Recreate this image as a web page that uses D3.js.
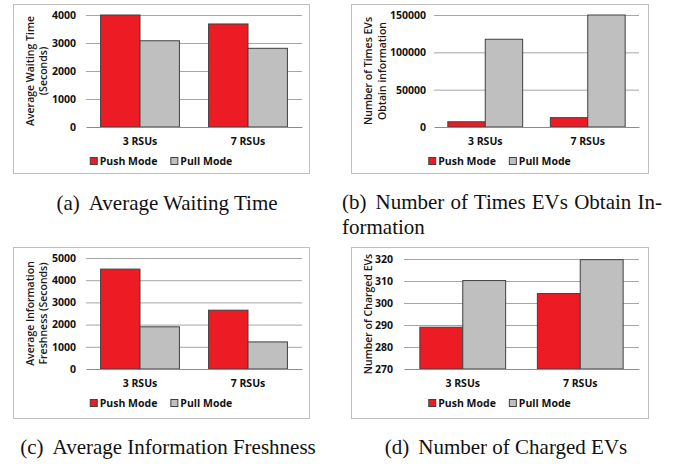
<!DOCTYPE html>
<html>
<head>
<meta charset="utf-8">
<script src="https://cdn.jsdelivr.net/npm/d3@7"></script>
<style>
  body { margin: 0; background: #fff; }
  svg { display: block; }
  .tick text { font-family: "Open Sans", Lato, sans-serif; }
</style>
</head>
<body>
<div id="chart"></div>
<script>
// Data
const categories = ["3 RSUs", "7 RSUs"];
const seriesNames = ["Push Mode", "Pull Mode"];

const waitPush = [4000, 3680];
const waitPull = [3080, 2810];
const waitTicks = [0, 1000, 2000, 3000, 4000];

const obtainPush = [7000, 12500];
const obtainPull = [117500, 150000];
const obtainTicks = [0, 50000, 100000, 150000];

const freshPush = [4500, 2650];
const freshPull = [1900, 1220];
const freshTicks = [0, 1000, 2000, 3000, 4000, 5000];

const chargedPush = [289, 304.3];
const chargedPull = [310.2, 319.7];
const chargedTicks = [270, 280, 290, 300, 310, 320];

const captionA = ["(a)", "Average Waiting Time"];
const captionB = [["(b)", "Number of Times EVs Obtain In-"], ["", "formation"]];
const captionC = ["(c)", "Average Information Freshness"];
const captionD = ["(d)", "Number of Charged EVs"];

const colors = ["#ed1c24", "#bfbfbf"];

const width = 691;
const height = 464;

const svg = d3.create("svg")
    .attr("width", width)
    .attr("height", height);
chart.append(svg.node());

// Panel layout (box, plot area, axis title lines)
const panels = [
    { box: [13, 4, 309, 173], plot: [86, 302, 127, 15], push: waitPush, pull: waitPull,
      ticks: waitTicks, title: ["Average Waiting Time", "(Seconds)"], titleX: [30, 43], pad: 10,
      caption: [captionA], capX: 167, capY: 210 },
    { box: [351, 4, 648, 173], plot: [434, 639, 127, 15], push: obtainPush, pull: obtainPull,
      ticks: obtainTicks, title: ["Number of Times EVs", "Obtain information"], titleX: [368, 382], pad: 8,
      caption: captionB, capX: 342, capY: 209, justify: 320 },
    { box: [13, 247, 309, 418], plot: [86, 302, 369, 258], push: freshPush, pull: freshPull,
      ticks: freshTicks, title: ["Average Information", "Freshness (Seconds)"], titleX: [30, 43], pad: 10,
      caption: [captionC], capX: 168, capY: 454 },
    { box: [351, 247, 648, 418], plot: [404, 639, 369, 259], push: chargedPush, pull: chargedPull,
      ticks: chargedTicks, title: ["Number of Charged EVs"], titleX: [368], pad: 11,
      caption: [captionD], capX: 506, capY: 454 }
];

panels.forEach(drawPanel);

function drawPanel(p) {
    const [bx0, by0, bx1, by1] = p.box;
    const [left, right, bottom, top] = p.plot;
    const g = svg.append("g");

    // Outer chart border
    g.append("rect")
        .attr("x", bx0 + 0.5).attr("y", by0 + 0.5)
        .attr("width", bx1 - bx0).attr("height", by1 - by0)
        .attr("fill", "#fff")
        .attr("stroke", "#bfbfbf");

    const x0 = d3.scaleBand()
        .domain(categories)
        .range([left, right])
        .paddingInner(0.27)
        .paddingOuter(0.135);

    const x1 = d3.scaleBand()
        .domain(seriesNames)
        .range([0, x0.bandwidth()]);

    const y = d3.scaleLinear()
        .domain(d3.extent(p.ticks))
        .range([bottom, top]);

    // Gridlines
    g.append("g")
        .attr("transform", `translate(${left},0)`)
        .call(d3.axisLeft(y).tickValues(p.ticks.slice(1)).tickSize(-(right - left)).tickFormat(""))
        .call(s => s.select(".domain").remove())
        .call(s => s.selectAll("line").attr("stroke", "#a6a6a6"));

    // Y tick labels
    g.append("g")
        .attr("transform", `translate(${left},0)`)
        .call(d3.axisLeft(y).tickValues(p.ticks).tickSize(0).tickPadding(p.pad).tickFormat(d3.format("d")))
        .call(s => s.select(".domain").remove())
        .call(s => s.selectAll("text")
            .attr("font-size", 10.5)
            .attr("font-weight", "bold")
            .attr("fill", "#111"));

    // Bars
    const rows = categories.map((c, i) => ({ cat: c, values: [p.push[i], p.pull[i]] }));
    g.append("g")
        .selectAll("g")
        .data(rows)
        .join("g")
        .attr("transform", d => `translate(${x0(d.cat)},0)`)
        .selectAll("rect")
        .data(d => d.values.map((v, j) => ({ name: seriesNames[j], v, j })))
        .join("rect")
        .attr("x", d => x1(d.name))
        .attr("y", d => y(d.v))
        .attr("width", x1.bandwidth())
        .attr("height", d => y(y.domain()[0]) - y(d.v))
        .attr("fill", d => colors[d.j])
        .attr("stroke", "#404040")
        .attr("stroke-width", 1);

    // Category axis
    g.append("g")
        .attr("transform", `translate(0,${bottom})`)
        .call(d3.axisBottom(x0).tickSize(0).tickPadding(11))
        .call(s => s.select(".domain").attr("stroke", "#8c8c8c"))
        .call(s => s.selectAll("text")
            .attr("font-size", 10.5)
            .attr("font-weight", "bold")
            .attr("fill", "#111"));

    // Y axis title (rotated)
    const midY = (top + bottom) / 2;
    p.title.forEach((t, i) => {
        g.append("text")
            .attr("transform", `translate(${p.titleX[i]},${midY}) rotate(-90)`)
            .attr("text-anchor", "middle")
            .attr("dy", "0.35em")
            .attr("font-family", "'Open Sans', sans-serif")
            .attr("font-size", 10.5)
            .attr("font-weight", 600)
            .attr("fill", "#1a1a1a")
            .text(t);
    });

    // Legend
    const legendY = bottom + 34;
    const legend = g.append("g");
    let lx = 0;
    seriesNames.forEach((name, j) => {
        const item = legend.append("g").attr("transform", `translate(${lx},0)`);
        item.append("rect")
            .attr("x", 0.5).attr("y", -3.5)
            .attr("width", 7).attr("height", 7)
            .attr("fill", colors[j])
            .attr("stroke", "#404040");
        const txt = item.append("text")
            .attr("x", 10)
            .attr("dy", "0.35em")
            .attr("font-family", "'Open Sans', sans-serif")
            .attr("font-size", 10.5)
            .attr("font-weight", "bold")
            .attr("fill", "#111")
            .text(name);
        lx += 10 + txt.node().getComputedTextLength() + 13;
    });
    lx -= 13;
    legend.attr("transform", `translate(${(bx0 + bx1) / 2 - lx / 2},${legendY})`);

    // Caption
    p.caption.forEach(([label, rest], i) => {
        const t = svg.append("text")
            .attr("x", p.capX)
            .attr("y", p.capY + i * 25)
            .attr("text-anchor", p.justify ? "start" : "middle")
            .attr("font-family", "'Liberation Serif', 'Times New Roman', serif")
            .attr("font-size", 21)
            .attr("fill", "#111");
        if (label) t.append("tspan").text(label);
        t.append("tspan").attr("dx", label ? 9 : 0).text(rest);
        if (p.justify && i === 0) {
            const natural = t.node().getComputedTextLength() + 9;
            const gaps = rest.split(" ").length - 1;
            t.attr("word-spacing", (p.justify - natural) / gaps);
        }
    });
}
</script>
</body>
</html>
